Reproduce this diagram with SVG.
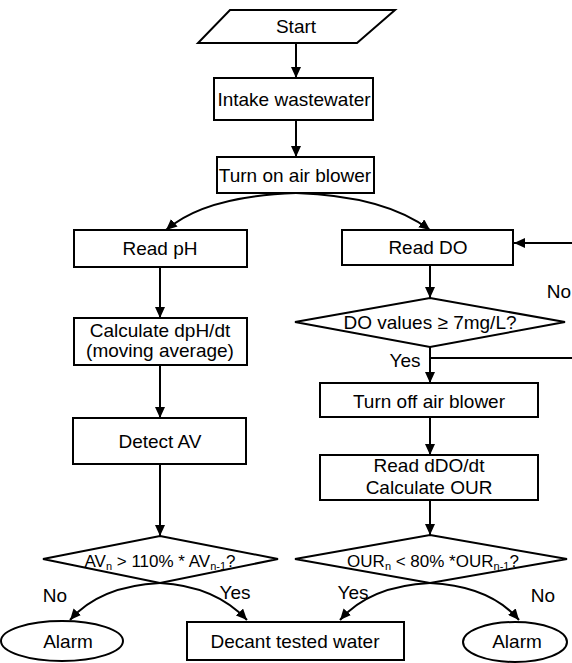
<svg xmlns="http://www.w3.org/2000/svg" width="572" height="663" viewBox="0 0 572 663">
<style>
.box{fill:#fff;stroke:#000;stroke-width:2}
.t{font-family:"Liberation Sans",Arial,sans-serif;font-size:19px;fill:#000;text-anchor:middle}
.s{font-size:17px}
.sub{font-size:11px}
.c{fill:none;stroke:#000;stroke-width:2}
</style>
<defs>
<marker id="ah" markerUnits="userSpaceOnUse" markerWidth="12" markerHeight="10" refX="11" refY="5" orient="auto">
<path d="M0,0 L11,5 L0,10 Z" fill="#000"/>
</marker>
</defs>
<rect width="572" height="663" fill="#fff"/>
<g id="connectors">
<line class="c" x1="296" y1="43" x2="296" y2="78" marker-end="url(#ah)"/>
<line class="c" x1="296" y1="120" x2="296" y2="157" marker-end="url(#ah)"/>
<path class="c" d="M296,193 Q205,196 166,230" marker-end="url(#ah)"/>
<path class="c" d="M296,193 Q385,196 430,230" marker-end="url(#ah)"/>
<line class="c" x1="160" y1="267" x2="160" y2="318" marker-end="url(#ah)"/>
<line class="c" x1="160" y1="365" x2="160" y2="418" marker-end="url(#ah)"/>
<line class="c" x1="160" y1="464" x2="160" y2="536" marker-end="url(#ah)"/>
<line class="c" x1="572" y1="243" x2="514" y2="243" marker-end="url(#ah)"/>
<line class="c" x1="430" y1="265" x2="430" y2="298" marker-end="url(#ah)"/>
<line class="c" x1="430" y1="347" x2="430" y2="383" marker-end="url(#ah)"/>
<line class="c" x1="430" y1="358" x2="572" y2="358"/>
<line class="c" x1="430" y1="417" x2="430" y2="455" marker-end="url(#ah)"/>
<line class="c" x1="430" y1="500" x2="430" y2="535" marker-end="url(#ah)"/>
<path class="c" d="M160,583 Q100,586 70,620" marker-end="url(#ah)"/>
<path class="c" d="M160,583 Q215,586 247,620" marker-end="url(#ah)"/>
<path class="c" d="M430,583 Q370,586 340,620" marker-end="url(#ah)"/>
<path class="c" d="M430,583 Q490,586 519,620" marker-end="url(#ah)"/>
</g>
<g id="start">
<polygon class="box" points="230,10 395,10 357,43 198,43"/>
<text class="t" x="296" y="33">Start</text>
</g>
<g id="intake">
<rect class="box" x="214" y="78" width="159" height="42"/>
<text class="t" x="294" y="106">Intake wastewater</text>
</g>
<g id="blower-on">
<rect class="box" x="217" y="157" width="157" height="36"/>
<text class="t" x="295" y="182">Turn on air blower</text>
</g>
<g id="read-ph">
<rect class="box" x="74" y="230" width="173" height="37"/>
<text class="t" x="160" y="255">Read pH</text>
</g>
<g id="calc-dph">
<rect class="box" x="74" y="318" width="173" height="47"/>
<text class="t" x="160" y="337">Calculate dpH/dt</text>
<text class="t" x="160" y="357">(moving average)</text>
</g>
<g id="detect-av">
<rect class="box" x="73" y="418" width="173" height="46"/>
<text class="t" x="160" y="448">Detect AV</text>
</g>
<g id="av-decision">
<polygon class="box" points="160,536 278,559 160,583 43,559"/>
<text class="t s" x="160" y="567">AV<tspan class="sub" dy="3">n</tspan><tspan dy="-3"> &gt; 110% * AV</tspan><tspan class="sub" dy="3">n-1</tspan><tspan dy="-3">?</tspan></text>
</g>
<g id="alarm-left">
<ellipse class="box" cx="62" cy="641" rx="61" ry="20"/>
<text class="t" x="68" y="648">Alarm</text>
</g>
<g id="decant">
<rect class="box" x="187" y="622" width="217" height="38"/>
<text class="t" x="295" y="648">Decant tested water</text>
</g>
<g id="read-do">
<rect class="box" x="342" y="230" width="171" height="35"/>
<text class="t" x="428" y="254">Read DO</text>
</g>
<g id="do-decision">
<polygon class="box" points="430,298 565,322 430,347 295,322"/>
<text class="t" x="430" y="329">DO values ≥ 7mg/L?</text>
</g>
<g id="blower-off">
<rect class="box" x="320" y="383" width="218" height="34"/>
<text class="t" x="429" y="408">Turn off air blower</text>
</g>
<g id="calc-our">
<rect class="box" x="320" y="455" width="218" height="45"/>
<text class="t" x="429" y="472">Read dDO/dt</text>
<text class="t" x="429" y="494">Calculate OUR</text>
</g>
<g id="our-decision">
<polygon class="box" points="430,535 567,559 430,583 295,559"/>
<text class="t s" x="433" y="567">OUR<tspan class="sub" dy="3">n</tspan><tspan dy="-3"> &lt; 80% *OUR</tspan><tspan class="sub" dy="3">n-1</tspan><tspan dy="-3">?</tspan></text>
</g>
<g id="alarm-right">
<ellipse class="box" cx="515" cy="642" rx="52" ry="20"/>
<text class="t" x="517" y="648">Alarm</text>
</g>
<g id="labels">
<text class="t" x="559" y="298">No</text>
<text class="t" x="405" y="367">Yes</text>
<text class="t" x="55" y="602">No</text>
<text class="t" x="235" y="599">Yes</text>
<text class="t" x="353" y="599">Yes</text>
<text class="t" x="543" y="602">No</text>
</g>
</svg>
